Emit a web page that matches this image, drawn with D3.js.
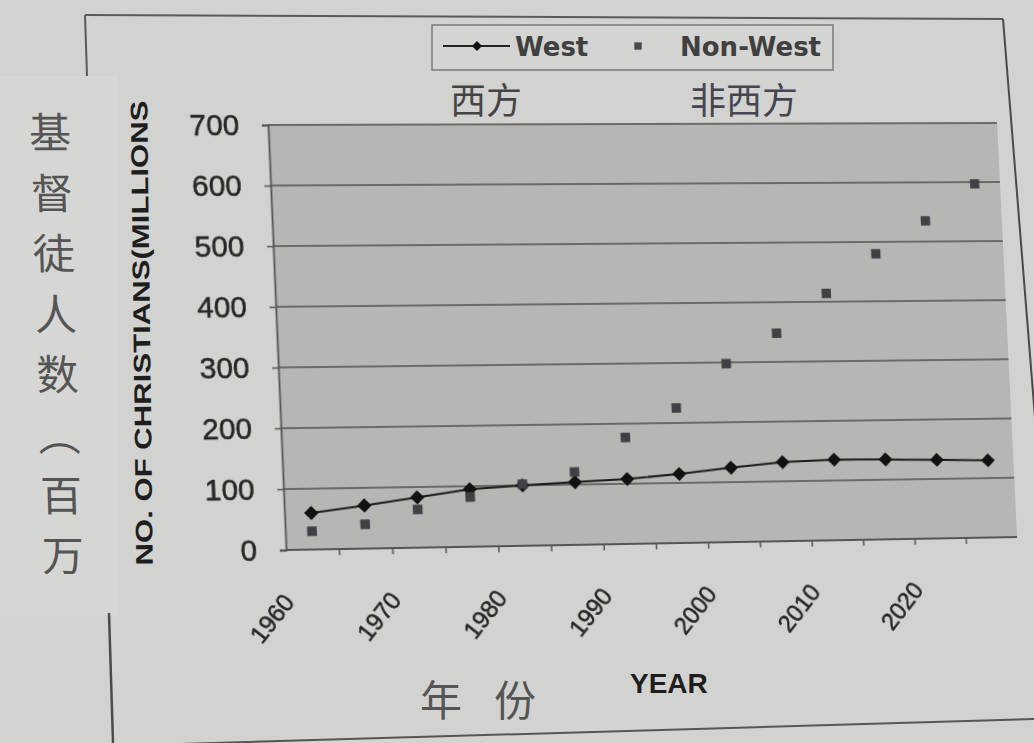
<!DOCTYPE html>
<html>
<head>
<meta charset="utf-8">
<script src="https://cdn.jsdelivr.net/npm/d3@7"></script>
<style>
html, body { margin: 0; padding: 0; width: 1034px; height: 743px; overflow: hidden; background: #d2d3d0; }
svg { position: absolute; left: 0; top: 0; overflow: visible; }
#plot { transform-origin: 0 0; }
</style>
</head>
<body>
<svg id="page" width="1034" height="743"></svg>
<svg id="plot" width="1034" height="743"></svg>
<script>
// ---------------- data ----------------
const years = [1960, 1965, 1970, 1975, 1980, 1985, 1990, 1995, 2000, 2005, 2010, 2015, 2020, 2025];
const tickLabels = ["1960", "1970", "1980", "1990", "2000", "2010", "2020"];
const westValues = [60, 71, 83, 95, 100, 104, 108, 115, 124, 132, 135, 134, 132, 130];
const nonWestValues = [30, 40, 63, 82, 102, 121, 177, 225, 298, 348, 414, 480, 535, 597];
const yTickValues = [0, 100, 200, 300, 400, 500, 600, 700];
const seriesNames = ["West", "Non-West"];
const seriesNamesCn = ["西方", "非西方"];
const yTitle = "NO. OF CHRISTIANS(MILLIONS";
const yTitleCn = ["基", "督", "徒", "人", "数", "︵", "百", "万"];
const xTitle = "YEAR";
const xTitleCn = ["年", "份"];

// ---------------- layout ----------------
const L = 277, T = 124, R = 1008, B = 544;          // plot rect (local, before photo perspective)
const photoCorners = [[268, 125], [997, 123], [1017, 537], [286, 550]]; // TL, TR, BR, BL

function perspective(rect, dst) {
  const [x0, y0] = dst[0], [x1, y1] = dst[1], [x2, y2] = dst[2], [x3, y3] = dst[3];
  const dx1 = x1 - x2, dx2 = x3 - x2, dx3 = x0 - x1 + x2 - x3;
  const dy1 = y1 - y2, dy2 = y3 - y2, dy3 = y0 - y1 + y2 - y3;
  const den = dx1 * dy2 - dx2 * dy1;
  const g = (dx3 * dy2 - dx2 * dy3) / den, h = (dx1 * dy3 - dx3 * dy1) / den;
  const a = x1 - x0 + g * x1, b = x3 - x0 + h * x3, c = x0;
  const d = y1 - y0 + g * y1, e = y3 - y0 + h * y3, f = y0;
  const [l, t, r, bt] = rect, W = r - l, H = bt - t;
  const m00 = a / W, m01 = b / H, m02 = c - a * l / W - b * t / H;
  const m10 = d / W, m11 = e / H, m12 = f - d * l / W - e * t / H;
  const m20 = g / W, m21 = h / H, m22 = 1 - g * l / W - h * t / H;
  return `matrix3d(${m00},${m10},0,${m20},${m01},${m11},0,${m21},0,0,1,0,${m02},${m12},0,${m22})`;
}
d3.select("#plot").style("transform", perspective([L, T, R, B], photoCorners));

const latin = "'Liberation Sans', Arial, sans-serif";
const cjk = "'Noto Sans CJK SC', sans-serif";

// ---------------- page layer ----------------
const page = d3.select("#page");
// pasted lighter strip on the left
page.append("rect").attr("x", 0).attr("y", 76).attr("width", 118).attr("height", 540).attr("fill", "#d6d7d4");

// frame lines
page.append("line").attr("x1", 85).attr("y1", 15).attr("x2", 1003).attr("y2", 19).attr("stroke", "#5a5a5a").attr("stroke-width", 2);
page.append("line").attr("x1", 85).attr("y1", 15).attr("x2", 87).attr("y2", 76).attr("stroke", "#5a5a5a").attr("stroke-width", 2);
page.append("line").attr("x1", 109).attr("y1", 613).attr("x2", 113).attr("y2", 743).attr("stroke", "#4a4a4a").attr("stroke-width", 2.5);
page.append("line").attr("x1", 1003).attr("y1", 19).attr("x2", 1036).attr("y2", 430).attr("stroke", "#4a4a4a").attr("stroke-width", 2);
page.append("line").attr("x1", 112).attr("y1", 746).attr("x2", 1034).attr("y2", 719).attr("stroke", "#555").attr("stroke-width", 2);

// legend
const lg = page.append("g");
lg.append("rect").attr("x", 432).attr("y", 25).attr("width", 401).attr("height", 45)
  .attr("fill", "#d4d5d2").attr("stroke", "#7a7a7a").attr("stroke-width", 1.5);
lg.append("line").attr("x1", 443).attr("y1", 46).attr("x2", 510).attr("y2", 46).attr("stroke", "#222").attr("stroke-width", 2);
lg.append("path").attr("d", d3.symbol(d3.symbolSquare, 50)()).attr("transform", "translate(477,46) rotate(45)").attr("fill", "#111");
lg.append("text").attr("x", 515).attr("y", 56).text(seriesNames[0])
  .attr("font-family", "'DejaVu Sans', sans-serif").attr("font-weight", "bold").attr("font-size", 26).attr("fill", "#404040");
lg.append("path").attr("d", d3.symbol(d3.symbolSquare, 55)()).attr("transform", "translate(638,46)").attr("fill", "#4a4a4e");
lg.append("text").attr("x", 680).attr("y", 56).text(seriesNames[1])
  .attr("font-family", "'DejaVu Sans', sans-serif").attr("font-weight", "bold").attr("font-size", 26).attr("fill", "#404040");

// Chinese legend annotations
page.selectAll("text.cnleg").data(seriesNamesCn).join("text").attr("class", "cnleg")
  .attr("x", (d, i) => [450, 690][i]).attr("y", 114)
  .attr("font-family", cjk).attr("font-size", 36).attr("fill", (d, i) => ["#454545", "#45454f"][i])
  .text(d => d);

// Chinese y title column
const cnY = d3.scalePoint().domain(d3.range(yTitleCn.length)).range([130, 553]);
page.append("g").attr("transform", "translate(46,0) skewX(1.76)")
  .selectAll("text").data(yTitleCn).join("text")
  .attr("x", 0).attr("y", (d, i) => cnY(i))
  .attr("text-anchor", "middle").attr("dominant-baseline", "central")
  .attr("font-family", cjk).attr("font-size", 42).attr("fill", "#555")
  .text(d => d);

// English y title
page.append("text")
  .attr("transform", "translate(150,333) rotate(-90.7)")
  .attr("text-anchor", "middle")
  .attr("font-family", latin).attr("font-weight", "bold").attr("font-size", 24).attr("fill", "#1e1e1e")
  .attr("textLength", 465).attr("lengthAdjust", "spacingAndGlyphs")
  .text(yTitle);

// x titles
page.selectAll("text.cnx").data(xTitleCn).join("text").attr("class", "cnx")
  .attr("x", (d, i) => [420, 494][i]).attr("y", 716)
  .attr("font-family", cjk).attr("font-size", 42).attr("fill", "#555")
  .text(d => d);
page.append("text").attr("x", 630).attr("y", 693).text(xTitle)
  .attr("font-family", latin).attr("font-weight", "bold").attr("font-size", 28).attr("fill", "#1e1e1e");

// ---------------- plot layer (photo perspective) ----------------
const svg = d3.select("#plot");
const x = d3.scaleBand().domain(years).range([L, R]).padding(0);
const y = d3.scaleLinear().domain([0, 700]).range([B, T]);
const cx = d => x(d) + x.bandwidth() / 2;

svg.append("rect").attr("x", L).attr("y", T).attr("width", R - L).attr("height", B - T).attr("fill", "#b6b7b4");

// gridlines
svg.append("g").selectAll("line").data(yTickValues).join("line")
  .attr("x1", L).attr("x2", R).attr("y1", d => y(d)).attr("y2", d => y(d))
  .attr("stroke", "#6a6a6a").attr("stroke-width", 1.8);

// y axis
const yAxis = svg.append("g").attr("transform", `translate(${L},0)`)
  .call(d3.axisLeft(y).tickValues(yTickValues).tickSize(6).tickPadding(22).tickFormat(d3.format("d")));
yAxis.select(".domain").attr("stroke", "#555").attr("stroke-width", 1.8);
yAxis.selectAll(".tick line").attr("stroke", "#555").attr("stroke-width", 1.5);
yAxis.selectAll("text").attr("font-family", latin).attr("font-size", 29).attr("fill", "#262626")
  .attr("stroke", "#262626").attr("stroke-width", 0.5);

// x axis
const xAxis = svg.append("g").attr("transform", `translate(0,${B})`);
xAxis.append("line").attr("x1", L).attr("x2", R).attr("stroke", "#555").attr("stroke-width", 1.8);
xAxis.selectAll("line.tk").data(years.slice(1)).join("line").attr("class", "tk")
  .attr("x1", d => x(d)).attr("x2", d => x(d)).attr("y1", 0).attr("y2", 6)
  .attr("stroke", "#555").attr("stroke-width", 1.5);
xAxis.selectAll("text").data(tickLabels).join("text")
  .attr("transform", d => `translate(${cx(+d) - 19},52) rotate(-50)`)
  .attr("text-anchor", "end")
  .attr("font-family", latin).attr("font-size", 24).attr("fill", "#262626")
  .attr("stroke", "#262626").attr("stroke-width", 0.5)
  .text(d => d);

// West series
const westData = years.map((yr, i) => ({ yr, v: westValues[i] }));
const nonWestData = years.map((yr, i) => ({ yr, v: nonWestValues[i] }));
svg.append("path").datum(westData)
  .attr("d", d3.line().x(d => cx(d.yr)).y(d => y(d.v)))
  .attr("fill", "none").attr("stroke", "#1a1a1a").attr("stroke-width", 2);
svg.append("g").selectAll("path").data(westData).join("path")
  .attr("d", d3.symbol(d3.symbolSquare, 100)())
  .attr("transform", d => `translate(${cx(d.yr)},${y(d.v)}) rotate(45)`)
  .attr("fill", "#111");

// Non-West series
svg.append("g").selectAll("path").data(nonWestData).join("path")
  .attr("d", d3.symbol(d3.symbolSquare, 90)())
  .attr("transform", d => `translate(${cx(d.yr)},${y(d.v)})`)
  .attr("fill", "#414145");
</script>
</body>
</html>
